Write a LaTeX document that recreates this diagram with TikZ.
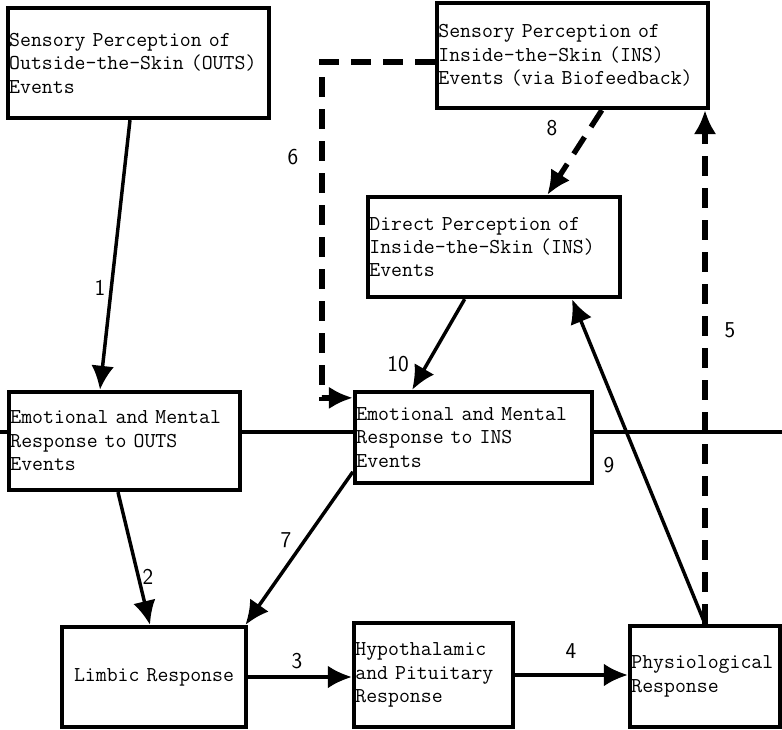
\documentclass[tikz,border=0pt]{standalone}
\usepackage{fontspec}
\usetikzlibrary{arrows.meta}

\begin{document}
\begin{tikzpicture}[x=0.75pt,y=-0.75pt,
  box/.style={draw,line width=3.2pt,inner xsep=1pt,inner ysep=2pt,align=left,
    font=\ttfamily\addfontfeature{FakeBold=0.6}\fontsize{15.9}{17.6}\selectfont},
  num/.style={font=\sffamily\fontsize{17}{19}\selectfont},
  arr/.style={line width=2.6pt,-{Latex[length=18pt,width=17pt]}},
  dasharr/.style={line width=4pt,dash pattern=on 15pt off 9pt,-{Latex[length=18pt,width=17pt]}}]
\useasboundingbox (0,0) rectangle (782,730);
\node[box,text width=194pt,minimum height=82.5pt] (outs) at (138.5,63) {Sensory Perception of\\Outside-the-Skin (OUTS)\\Events};
\node[box,text width=201.25pt,minimum height=78.75pt] (ins) at (572.5,55.5) {Sensory Perception of\\Inside-the-Skin (INS)\\Events (via Biofeedback)};
\node[box,text width=187pt,minimum height=75pt] (direct) at (494,247) {Direct Perception of\\Inside-the-Skin (INS)\\Events};
\node[box,text width=171.25pt,minimum height=73.5pt] (emoOuts) at (124.5,441) {Emotional and Mental\\Response to OUTS\\Events};
\node[box,text width=175.75pt,minimum height=68.25pt] (emoIns) at (473.5,437.5) {Emotional and Mental\\Response to INS\\Events};
\node[box,text width=136pt,minimum height=75pt,align=center] (limbic) at (154,677) {Limbic Response};
\node[box,text width=117.25pt,minimum height=78pt] (hypo) at (433.5,675) {Hypothalamic\\and Pituitary\\Response};
\node[box,text width=110.5pt,minimum height=75.75pt] (physio) at (705,676.5) {Physiological\\Response};
\coordinate (westEnd) at (0,432);
\coordinate (eastEnd) at (782,432);
\coordinate (bend) at (322,62);
\draw[line width=2.6pt] (westEnd) -- (westEnd -| emoOuts.west) (westEnd -| emoOuts.east) -- (westEnd -| emoIns.west) (westEnd -| emoIns.east) -- (eastEnd);
\draw[arr] ([xshift=-6.4pt]outs.south) -- ([xshift=-18.4pt]emoOuts.north);
\draw[arr] ([xshift=-4.9pt]emoOuts.south) -- ([xshift=-3pt]limbic.north);
\draw[arr] (limbic.east) -- (limbic.east -| hypo.west);
\draw[arr] (hypo.east) -- (hypo.east -| physio.west);
\draw[dasharr] (physio.north) -- (physio.north |- ins.south);
\draw[dasharr] (ins.west |- bend) -- (bend) |- ([yshift=-6pt]emoIns.north west);
\draw[arr] ([yshift=10pt]emoIns.south west) -- ([xshift=-2pt]limbic.north east);
\draw[dasharr] ([xshift=22pt]ins.south) -- ([xshift=40pt]direct.north);
\draw[arr] (physio.north) -- ([xshift=58.5pt]direct.south);
\draw[arr] ([xshift=-22pt]direct.south) -- ([xshift=-46pt]emoIns.north);
\node[num] (n1) at (100,288) {1};
\node[num] (n2) at (148,577) {2};
\node[num] (n3) at (297,661) {3};
\node[num] (n4) at (571,651) {4};
\node[num] (n5) at (730,330) {5};
\node[num] (n6) at (293,157) {6};
\node[num] (n7) at (286,540) {7};
\node[num] (n8) at (552,128) {8};
\node[num] (n9) at (609,465) {9};
\node[num] (n10) at (398,364) {10};
\end{tikzpicture}
\end{document}
